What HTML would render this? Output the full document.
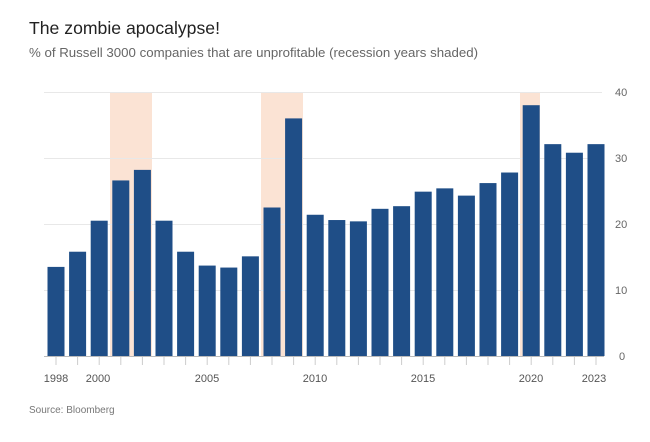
<!DOCTYPE html>
<html><head><meta charset="utf-8"><style>
body{margin:0;background:#fff;width:650px;height:437px;overflow:hidden;font-family:"Liberation Sans",sans-serif}
</style></head><body>
<svg width="650" height="437" xmlns="http://www.w3.org/2000/svg" font-family="Liberation Sans, sans-serif">
<text x="29" y="34" font-size="17.5" fill="#222" textLength="191" lengthAdjust="spacingAndGlyphs">The zombie apocalypse!</text>
<text x="29" y="57" font-size="12.5" fill="#666" textLength="449" lengthAdjust="spacingAndGlyphs">% of Russell 3000 companies that are unprofitable (recession years shaded)</text>
<g fill="#fbe3d4">
<rect x="110" y="92" width="42" height="264"/>
<rect x="261" y="92" width="42" height="264"/>
<rect x="520" y="92" width="20" height="264"/>
</g>
<g stroke="#e8e8e8" stroke-width="1">
<line x1="44" x2="602" y1="92.5" y2="92.5"/>
<line x1="44" x2="602" y1="158.5" y2="158.5"/>
<line x1="44" x2="602" y1="224.5" y2="224.5"/>
<line x1="44" x2="602" y1="290.5" y2="290.5"/>
</g>
<g id="bars" fill="#1f4e87"></g>
<line x1="44" x2="604" y1="356.5" y2="356.5" stroke="#bbb"/>
<g font-size="11" fill="#666">
<text x="615" y="96">40</text><text x="615" y="162">30</text><text x="615" y="228">20</text><text x="615" y="294">10</text><text x="619" y="360">0</text>
</g>
<g id="ticks" stroke="#ccc"></g>
<g font-size="11" fill="#555" text-anchor="middle">
<text x="56" y="382">1998</text><text x="98" y="382">2000</text><text x="207" y="382">2005</text><text x="315" y="382">2010</text><text x="423" y="382">2015</text><text x="531" y="382">2020</text><text x="594" y="382">2023</text>
</g>
<text x="29" y="413" font-size="10" fill="#777">Source: Bloomberg</text>
<script>
var v=[13.5,15.8,20.5,26.6,28.2,20.5,15.8,13.7,13.4,15.1,22.5,36,21.4,20.6,20.4,22.3,22.7,24.9,25.4,24.3,26.2,27.8,38,32.1,30.8,32.1];
var g=document.getElementById('bars'),t=document.getElementById('ticks'),ns='http://www.w3.org/2000/svg';
v.forEach(function(d,i){var cx=56+i*21.6;var r=document.createElementNS(ns,'rect');var h=d*6.6;
r.setAttribute('x',cx-8.5);r.setAttribute('width',17);r.setAttribute('y',356-h);r.setAttribute('height',h);g.appendChild(r);
var l=document.createElementNS(ns,'line');l.setAttribute('x1',cx);l.setAttribute('x2',cx);l.setAttribute('y1',357);l.setAttribute('y2',365);t.appendChild(l);});
</script>
</svg>
</body></html>
